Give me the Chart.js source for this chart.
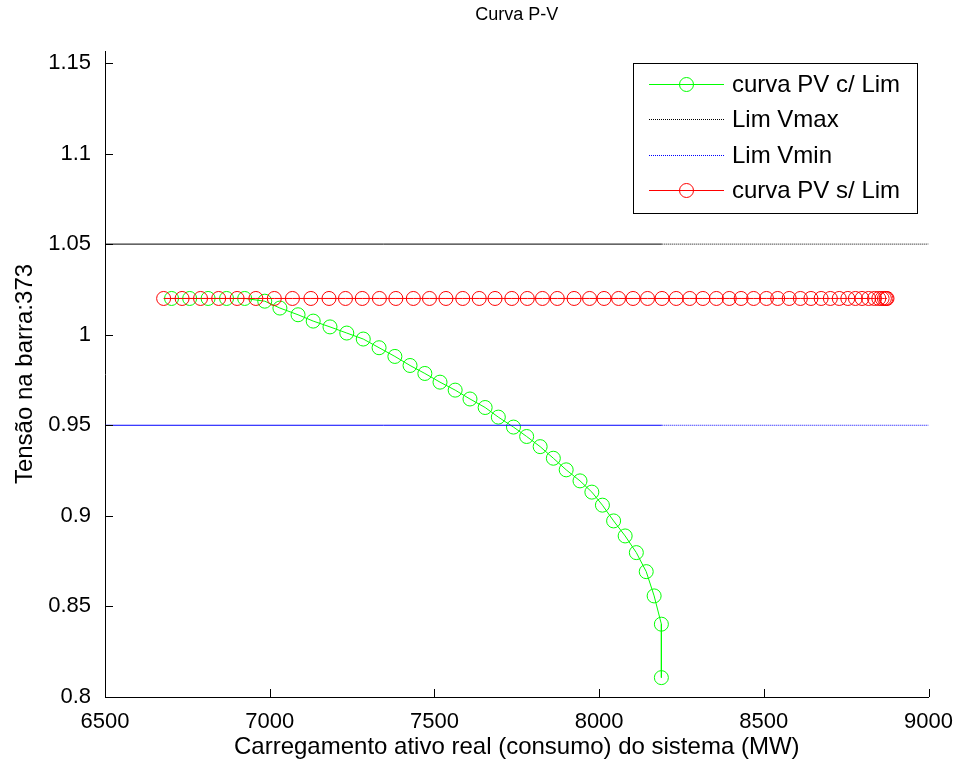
<!DOCTYPE html>
<html>
<head>
<meta charset="utf-8">
<script src="https://cdn.jsdelivr.net/npm/chart.js@4.4.0/dist/chart.umd.min.js"></script>
<style>
  html, body { margin: 0; padding: 0; background: #fff; }
  #wrap { width: 957px; height: 767px; }
</style>
</head>
<body>
<div id="wrap"><canvas id="pv" width="957" height="767"></canvas></div>
<script>
// Data
const P_COM_LIM = [6702, 6757, 6813, 6869, 6924, 6985, 7031, 7086, 7132, 7183, 7234, 7284,
    7332, 7380, 7426, 7471, 7517, 7563, 7608, 7654, 7694, 7740, 7780, 7821, 7861, 7900,
    7942, 7978, 8010, 8044, 8079, 8113, 8143, 8167, 8189, 8189];
const V_COM_LIM = [1.02, 1.02, 1.02, 1.02, 1.02, 1.0185, 1.0147, 1.0110, 1.0075, 1.0043, 1.0009, 0.9976,
    0.9928, 0.9880, 0.9830, 0.9786, 0.9738, 0.9694, 0.9645, 0.9598, 0.9545, 0.9490, 0.9438, 0.9382, 0.9318, 0.9254,
    0.9193, 0.9131, 0.9059, 0.8972, 0.8889, 0.8797, 0.8692, 0.8558, 0.8402, 0.8107];

const P_SEM_LIM = [6678, 6734, 6790, 6845, 6901, 6958, 7014, 7069, 7125, 7180, 7230, 7281,
    7333, 7383, 7436, 7485, 7535, 7586, 7636, 7684, 7735, 7782, 7828, 7873, 7924, 7971,
    8015, 8059, 8103, 8147, 8191, 8234, 8275, 8315, 8356, 8395, 8431, 8469, 8508, 8542,
    8577, 8611, 8643, 8674, 8702, 8729, 8755, 8778, 8798, 8818, 8836, 8849, 8859, 8866,
    8871, 8874];
const V_SEM_LIM = [1.02, 1.02, 1.02, 1.02, 1.02, 1.02, 1.02, 1.02, 1.02, 1.02, 1.02, 1.02,
    1.02, 1.02, 1.02, 1.02, 1.02, 1.02, 1.02, 1.02, 1.02, 1.02, 1.02, 1.02, 1.02, 1.02,
    1.02, 1.02, 1.02, 1.02, 1.02, 1.02, 1.02, 1.02, 1.02, 1.02, 1.02, 1.02, 1.02, 1.02,
    1.02, 1.02, 1.02, 1.02, 1.02, 1.02, 1.02, 1.02, 1.02, 1.02, 1.02, 1.02, 1.02, 1.02,
    1.02, 1.02];

// limit lines: solid part up to 8190, dotted after
const P_LIMITE = [6500, 8190, 9000];
const V_MAX = [1.05, 1.05, 1.05];
const V_MIN = [0.95, 0.95, 0.95];

const X_TICKS = [6500, 7000, 7500, 8000, 8500, 9000];
const Y_TICKS = [0.8, 0.85, 0.9, 0.95, 1, 1.05, 1.1, 1.15];

const TITLE = 'Curva P-V';
const FONT = "'Liberation Sans', Arial, Helvetica, sans-serif";

function toXY(xs, ys) {
    return xs.map((x, i) => ({ x: x, y: ys[i] }));
}

// dotted only after the last solid point
const limSegment = {
    borderDash: c => c.p0.parsed.x < 8190 ? [] : undefined
};

// MATLAB-like inward ticks + title centred over the axes
const innerTicks = {
    id: 'innerTicks',
    afterDraw(chart) {
        const { ctx, chartArea, scales } = chart;
        ctx.save();
        ctx.strokeStyle = '#000';
        ctx.lineWidth = 1;
        ctx.beginPath();
        scales.x.ticks.forEach(t => {
            const px = Math.round(scales.x.getPixelForValue(t.value)) + 0.5;
            ctx.moveTo(px, chartArea.bottom);
            ctx.lineTo(px, chartArea.bottom - 8);
        });
        scales.y.ticks.forEach(t => {
            const py = Math.round(scales.y.getPixelForValue(t.value)) + 0.5;
            ctx.moveTo(chartArea.left, py);
            ctx.lineTo(chartArea.left + 8, py);
        });
        ctx.stroke();

        ctx.fillStyle = '#000';
        ctx.font = '18px ' + FONT;
        ctx.textAlign = 'center';
        ctx.textBaseline = 'middle';
        ctx.fillText(TITLE, (chartArea.left + chartArea.right) / 2, 15);
        ctx.restore();
    }
};

// Legend box drawn inside the axes (top right)
const boxLegend = {
    id: 'boxLegend',
    afterDraw(chart) {
        const { ctx, chartArea } = chart;
        const left = Math.round(chartArea.right - 296);
        const top = Math.round(chartArea.top + 12);
        const w = 284, h = 150;
        ctx.save();
        ctx.fillStyle = '#fff';
        ctx.fillRect(left, top, w, h);
        ctx.strokeStyle = '#000';
        ctx.lineWidth = 1;
        ctx.strokeRect(left + 0.5, top + 0.5, w, h);

        ctx.font = '24px ' + FONT;
        ctx.textAlign = 'left';
        ctx.textBaseline = 'middle';
        chart.data.datasets.forEach((ds, i) => {
            const y = Math.round(top + 21 + i * 35.3) + 0.5;
            const dash = Array.isArray(ds.borderDash) ? ds.borderDash : [];
            ctx.strokeStyle = ds.borderColor;
            ctx.lineWidth = 1;
            ctx.setLineDash(dash);
            ctx.beginPath();
            ctx.moveTo(left + 16, y);
            ctx.lineTo(left + 91, y);
            ctx.stroke();
            ctx.setLineDash([]);
            if (ds.pointRadius > 0) {
                ctx.beginPath();
                ctx.arc(left + 53.5, y, ds.pointRadius, 0, Math.PI * 2);
                ctx.stroke();
            }
            ctx.fillStyle = '#000';
            ctx.fillText(ds.label, left + 99, y + 1);
        });
        ctx.restore();
    }
};

const ctx = document.getElementById('pv').getContext('2d');
const chart = new Chart(ctx, {
    type: 'line',
    data: {
        datasets: [{
            label: 'curva PV c/ Lim',
            data: toXY(P_COM_LIM, V_COM_LIM),
            borderColor: '#00ff00',
            borderWidth: 1,
            pointRadius: 7,
            pointBorderWidth: 1,
            pointBackgroundColor: 'rgba(0,0,0,0)',
            pointBorderColor: '#00ff00',
            order: 3
        }, {
            label: 'Lim Vmax',
            data: toXY(P_LIMITE, V_MAX),
            borderColor: '#000000',
            borderWidth: 1,
            borderDash: [1, 1],
            segment: limSegment,
            pointRadius: 0,
            order: 2
        }, {
            label: 'Lim Vmin',
            data: toXY(P_LIMITE, V_MIN),
            borderColor: '#0000ff',
            borderWidth: 1,
            borderDash: [1, 1],
            segment: limSegment,
            pointRadius: 0,
            order: 1
        }, {
            label: 'curva PV s/ Lim',
            data: toXY(P_SEM_LIM, V_SEM_LIM),
            borderColor: '#ff0000',
            borderWidth: 1,
            pointRadius: 7,
            pointBorderWidth: 1,
            pointBackgroundColor: 'rgba(0,0,0,0)',
            pointBorderColor: '#ff0000',
            order: 0
        }]
    },
    options: {
        responsive: false,
        animation: false,
        events: [],
        layout: { padding: { left: 0, right: 26, top: 51, bottom: 0 } },
        plugins: {
            legend: { display: false },
            tooltip: { enabled: false },
            title: { display: false }
        },
        scales: {
            x: {
                type: 'linear',
                min: 6500,
                max: 9000,
                afterBuildTicks: s => { s.ticks = X_TICKS.map(v => ({ value: v })); },
                afterFit: s => { s.height = 70; },
                grid: { display: false },
                border: { display: true, color: '#000', width: 1 },
                ticks: {
                    color: '#000',
                    font: { family: FONT, size: 22 },
                    padding: 4,
                    maxRotation: 0,
                    autoSkip: false,
                    callback: v => String(v)
                },
                title: {
                    display: true,
                    text: 'Carregamento ativo real (consumo) do sistema (MW)',
                    color: '#000',
                    font: { family: FONT, size: 24 },
                    padding: { top: 0, bottom: 5 }
                }
            },
            y: {
                type: 'linear',
                min: 0.8,
                max: 1.1566,
                afterBuildTicks: s => { s.ticks = Y_TICKS.map(v => ({ value: v })); },
                afterFit: s => { s.width = 105; },
                grid: { display: false },
                border: { display: true, color: '#000', width: 1 },
                ticks: {
                    color: '#000',
                    font: { family: FONT, size: 22 },
                    padding: 6,
                    autoSkip: false,
                    callback: v => String(Number(v.toFixed(2)))
                },
                title: {
                    display: true,
                    text: 'Tensão na barra:373',
                    color: '#000',
                    font: { family: FONT, size: 24 },
                    padding: { top: 11, bottom: 0 }
                }
            }
        }
    },
    plugins: [innerTicks, boxLegend]
});
</script>
</body>
</html>
